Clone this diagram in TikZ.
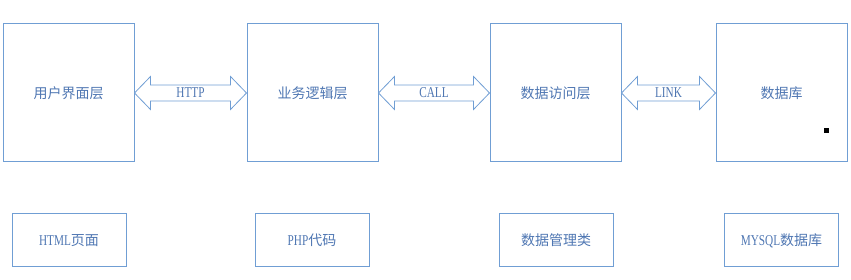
\documentclass[tikz,border=0pt]{standalone}
\usepackage{fontspec}
\setmainfont{Liberation Serif}
\newfontfamily\cjk{Noto Sans CJK SC}
\usepackage{xcolor}
\usepackage{graphicx}
\usetikzlibrary{calc}
\definecolor{boxblue}{RGB}{112,158,212}
\definecolor{txtblue}{RGB}{78,118,178}
\newcommand{\lat}[1]{\scalebox{0.75}[1]{\fontsize{15}{17}\selectfont #1}}

\begin{document}
\begin{tikzpicture}[x=1pt, y=1pt,
    layer/.style={draw=boxblue, line width=1pt, minimum width=131pt, minimum height=138pt, inner sep=0pt, text=txtblue, font=\fontsize{14}{16}\cjk},
    impl/.style={draw=boxblue, line width=1pt, minimum width=114pt, minimum height=53pt, inner sep=0pt, text=txtblue, font=\fontsize{14}{16}\selectfont},
    link/.style={draw=boxblue, line width=0.8pt, fill=white, line join=miter},
    lab/.style={text=txtblue, inner sep=0pt}
]
\useasboundingbox (0,0) rectangle (851,280);

% layers
\node[layer] (ui)  at (68.5,187)  {用户界面层};
\node[layer] (biz) at (312.5,187) {业务逻辑层};
\node[layer] (dao) at (555.5,187) {数据访问层};
\node[layer] (db)  at (781.5,187) {数据库};
\node[fill=black, minimum size=5pt, inner sep=0pt] (mark1) at (826.5,149.5) {};

% implementations
\node[impl] (html)  at (69,39.5)    {\lat{HTML}{\cjk 页面}};
\node[impl] (php)   at (312,39.5)   {\lat{PHP}{\cjk 代码}};
\node[impl] (dcls)  at (556,39.5)   {\cjk 数据管理类};
\node[impl] (mysql) at (781.5,39.5) {\lat{MYSQL}{\cjk 数据库}};

% double arrows between layers
\foreach \a/\b/\t in {ui/biz/HTTP, biz/dao/CALL, dao/db/LINK} {
    \draw[link] (\a.east) -- ++(16,16.5) -- ++(0,-8.5) -- ($(\b.west)+(-16,8)$)
        -- ++(0,8.5) -- (\b.west) -- ++(-16,-16.5) -- ++(0,8.5)
        -- ($(\a.east)+(16,-8)$) -- ++(0,-8.5) -- cycle;
    \node[lab] (lbl-\t) at ($(\a.east)!0.5!(\b.west)$) {\lat{\t}};
}
\end{tikzpicture}
\end{document}
